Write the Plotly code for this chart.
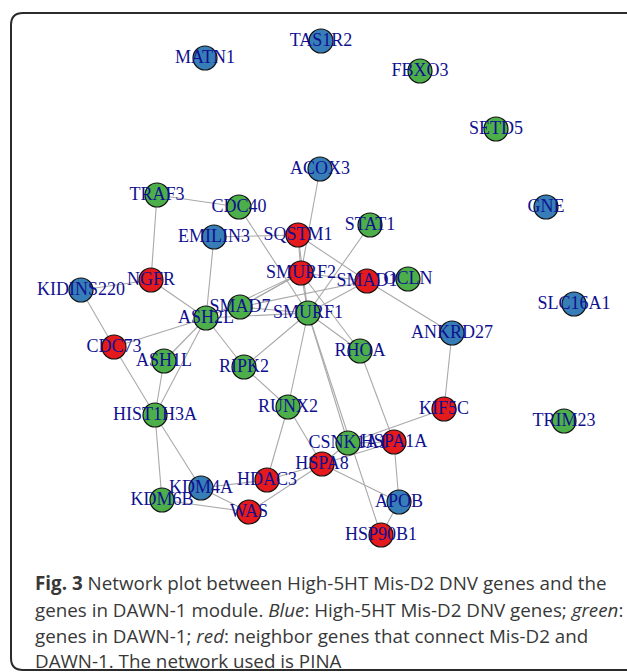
import plotly.graph_objects as go

# ---- data: nodes (name, group, layout position in picture pixels) ----
node_names = ["MATN1", "TAS1R2", "FBXO3", "SETD5", "ACOX3", "GNE", "TRAF3", "CDC40",
              "EMILIN3", "SQSTM1", "STAT1", "NGFR", "SMURF2", "SMAD1", "OCLN",
              "KIDINS220", "SLC16A1", "SMAD7", "ASH2L", "SMURF1", "ANKRD27", "CDC73",
              "RHOA", "ASH1L", "RIPK2", "KIF5C", "TRIM23", "HIST1H3A", "RUNX2",
              "CSNK1A1", "HSPA1A", "HSPA8", "HDAC3", "KDM4A", "KDM6B", "WAS", "APOB",
              "HSP90B1"]
node_group = ["blue", "blue", "green", "green", "blue", "blue", "green", "green",
              "blue", "red", "green", "red", "red", "red", "green",
              "blue", "blue", "green", "green", "green", "blue", "red",
              "green", "green", "green", "red", "green", "green", "green",
              "green", "red", "red", "red", "blue", "green", "red", "blue",
              "red"]
node_x = [205, 321, 420, 496, 320, 546, 157, 239,
          214, 298, 370, 151, 301, 367, 408,
          81, 574, 240, 206, 308, 452, 114,
          360, 164, 244, 444, 564, 155, 288,
          348, 394, 322, 267, 201, 162, 249, 399,
          381]
node_y = [58, 41, 71, 129, 169, 207, 195, 207,
          237, 235, 225, 280, 273, 281, 279,
          290, 304, 307, 318, 313, 333, 347,
          351, 361, 367, 409, 421, 415, 407,
          443, 442, 464, 480, 488, 500, 512, 502,
          535]

edge_from = ["TRAF3", "TRAF3", "CDC40", "EMILIN3", "EMILIN3", "ACOX3", "SQSTM1", "SQSTM1",
             "SQSTM1", "SMAD1", "SMURF2", "SMURF2", "SMURF2", "SMURF2", "SMURF2", "SMURF2",
             "SMURF1", "SMURF1", "SMURF1", "SMURF1", "SMURF1", "SMURF1", "SMURF1", "SMURF1",
             "SMAD1", "RHOA", "ANKRD27", "KIF5C", "CSNK1A1", "HSPA8", "HSPA8", "HSPA1A",
             "APOB", "RUNX2", "RUNX2", "RIPK2", "ASH2L", "HDAC3", "HDAC3", "WAS", "WAS",
             "WAS", "KDM4A", "KDM6B", "HIST1H3A", "HIST1H3A", "HIST1H3A", "ASH1L", "CDC73",
             "CDC73", "KIDINS220", "NGFR", "SMURF1", "HSPA8"]
edge_to = ["CDC40", "NGFR", "SMURF1", "SQSTM1", "ASH2L", "SMURF2", "SMURF2", "SMURF1",
           "SMAD1", "ANKRD27", "SMAD7", "ASH2L", "SMAD1", "RHOA", "SMURF1", "SMAD7",
           "SMAD7", "ASH2L", "SMAD1", "STAT1", "RHOA", "RIPK2", "RUNX2", "HSP90B1",
           "SMAD7", "HSPA1A", "KIF5C", "CSNK1A1", "HSPA1A", "HSPA1A", "APOB", "APOB",
           "HSP90B1", "HSPA8", "HDAC3", "RUNX2", "RIPK2", "HSPA8", "KDM4A", "HSPA8", "KDM4A",
           "KDM6B", "HIST1H3A", "HIST1H3A", "CDC73", "ASH1L", "ASH2L", "ASH2L", "ASH2L",
           "KIDINS220", "NGFR", "ASH2L", "CSNK1A1", "CSNK1A1"]

caption_lines = [
    "<b>Fig. 3</b> Network plot between High-5HT Mis-D2 DNV genes and the",
    "genes in DAWN-1 module. <i>Blue</i>: High-5HT Mis-D2 DNV genes; <i>green</i>:",
    "genes in DAWN-1; <i>red</i>: neighbor genes that connect Mis-D2 and",
    "DAWN-1. The network used is PINA",
]
caption_y = [583, 610, 636, 661]

group_colors = {"blue": "#377eb8", "green": "#4daf4a", "red": "#e41a1c"}

W, H = 627, 672
pos = {n: (x, y) for n, x, y in zip(node_names, node_x, node_y)}

ex, ey = [], []
for a, b in zip(edge_from, edge_to):
    ex += [pos[a][0], pos[b][0], None]
    ey += [pos[a][1], pos[b][1], None]

fig = go.Figure()
fig.add_trace(go.Scatter(x=ex, y=ey, mode="lines",
                         line=dict(color="#a9a9a9", width=1.1),
                         hoverinfo="skip", showlegend=False))
fig.add_trace(go.Scatter(
    x=node_x, y=node_y, mode="markers+text", text=node_names,
    textposition="middle center",
    textfont=dict(family="Liberation Serif", size=18, color="#10108f"),
    marker=dict(size=24, color=[group_colors[g] for g in node_group],
                line=dict(color="#111111", width=1.2), opacity=1),
    showlegend=False, cliponaxis=False))

# rounded border
r = 12
x0, y0, x1, y1 = 11, 13, 640, 670
path = (f"M {x0+r},{y0} L {x1-r},{y0} Q {x1},{y0} {x1},{y0+r} L {x1},{y1-r} "
        f"Q {x1},{y1} {x1-r},{y1} L {x0+r},{y1} Q {x0},{y1} {x0},{y1-r} "
        f"L {x0},{y0+r} Q {x0},{y0} {x0+r},{y0} Z")
fig.add_shape(type="path", path=path, xref="x", yref="y",
              line=dict(color="#2b2b2b", width=2), layer="below")

for txt, yy in zip(caption_lines, caption_y):
    fig.add_annotation(x=33, y=yy, xref="x", yref="y", text=txt, showarrow=False,
                       xanchor="left", yanchor="middle",
                       font=dict(family="Open Sans", size=18.8, color="#383838"))

fig.update_layout(
    width=W, height=H, margin=dict(l=0, r=0, t=0, b=0),
    paper_bgcolor="white", plot_bgcolor="white",
    xaxis=dict(range=[0, W], visible=False, fixedrange=True),
    yaxis=dict(range=[H, 0], visible=False, fixedrange=True),
)
fig.write_html("out.html",
               config={"displayModeBar": False},
               post_script="document.body.style.margin='0';"
                           "document.body.style.overflow='hidden';")
